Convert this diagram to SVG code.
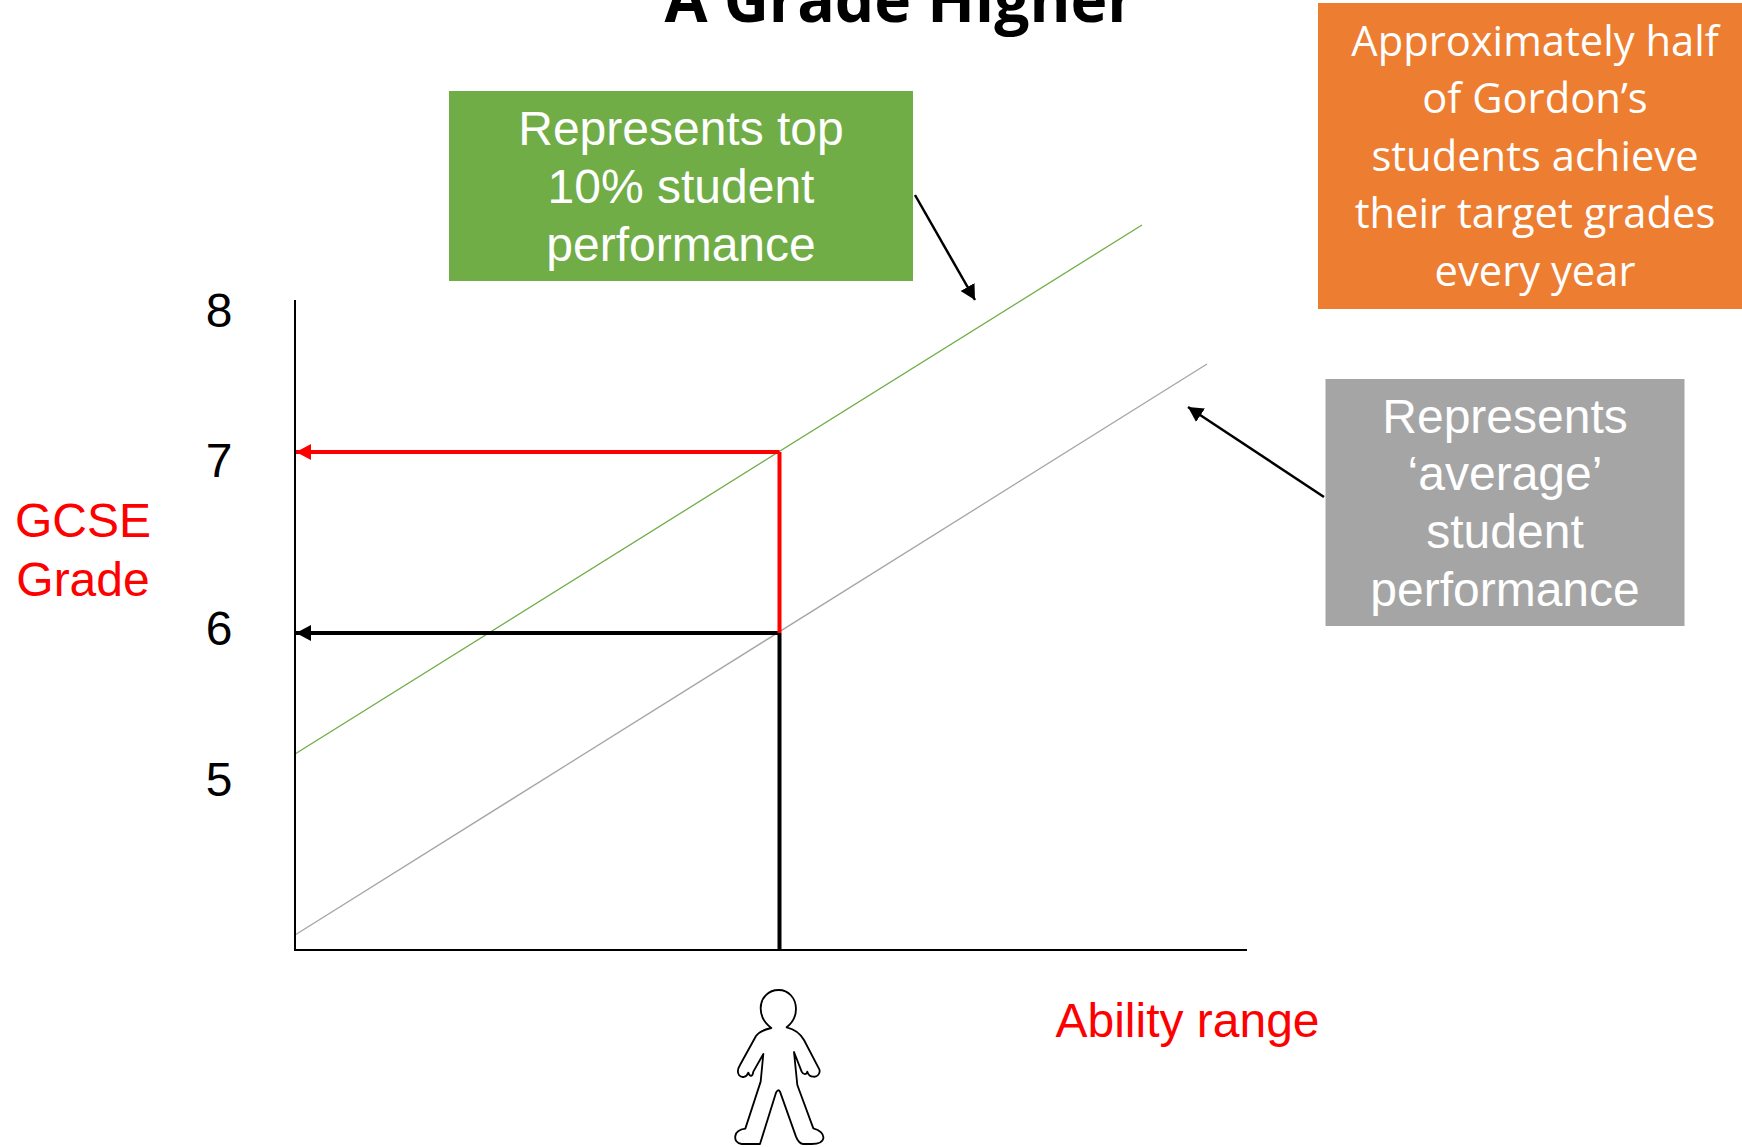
<svg xmlns="http://www.w3.org/2000/svg" width="1742" height="1147" viewBox="0 0 1742 1147">
<style>
.a{font-family:"Liberation Sans",Arial,sans-serif;font-size:48px;text-anchor:middle}
.w{fill:#fff}.r{fill:#f00}.k{fill:#000}
.o{font-family:"Open Sans","Noto Sans",sans-serif;font-size:41.7px;fill:#fff;text-anchor:middle}
.t{font-family:"Open Sans","Noto Sans",sans-serif;font-size:62.400px;font-weight:700;fill:#000;text-anchor:middle}
.c{fill:none}
</style>
<defs>
<marker id="ar" markerUnits="userSpaceOnUse" markerWidth="16" markerHeight="16" refX="15" refY="8" orient="auto"><path d="M0 0L15 8L0 16Z" fill="#f00"/></marker>
<marker id="ak" markerUnits="userSpaceOnUse" markerWidth="16" markerHeight="16" refX="15" refY="8" orient="auto"><path d="M0 0L15 8L0 16Z" fill="#000"/></marker>
</defs>
<rect width="1742" height="1147" fill="#fff"/>
<text id="title" class="t" x="900" y="22">A Grade Higher</text>
<g id="connectors" class="c">
<path d="M295 754L1142 225" stroke="#70ad47" stroke-width="1.3"/>
<path d="M295 935L1207 364" stroke="#a5a5a5" stroke-width="1.3"/>
<path d="M295 300V950H1247" stroke="#000" stroke-width="2"/>
<path d="M779.500 950V633" stroke="#000" stroke-width="4"/>
<path d="M779.500 633H296" stroke="#000" stroke-width="4" marker-end="url(#ak)"/>
<path d="M779.500 633V452" stroke="#f00" stroke-width="4"/>
<path d="M779.500 452H296" stroke="#f00" stroke-width="4" marker-end="url(#ar)"/>
<path d="M915 195L975 300" stroke="#000" stroke-width="2.500" marker-end="url(#ak)"/>
<path d="M1324 497L1188 407" stroke="#000" stroke-width="2.500" marker-end="url(#ak)"/>
</g>
<g id="node-green"><rect x="449" y="91" width="464" height="190" fill="#70ad47"/>
<text class="a w" x="681" y="145">Represents top</text><text class="a w" x="681" y="203">10% student</text><text class="a w" x="681" y="261">performance</text></g>
<g id="node-orange"><rect x="1318" y="3" width="424" height="306" fill="#ed7d31"/>
<text class="o" x="1535" y="56">Approximately half</text><text class="o" x="1535" y="113">of Gordon’s</text><text class="o" x="1535" y="171">students achieve</text><text class="o" x="1535" y="228">their target grades</text><text class="o" x="1535" y="286">every year</text></g>
<g id="node-gray"><rect x="1325.500" y="379" width="359" height="247" fill="#a5a5a5"/>
<text class="a w" x="1505" y="433">Represents</text><text class="a w" x="1505" y="490">‘average’</text><text class="a w" x="1505" y="548">student</text><text class="a w" x="1505" y="606">performance</text></g>
<g id="labels">
<text class="a k" x="219" y="327">8</text><text class="a k" x="219" y="477">7</text><text class="a k" x="219" y="645">6</text><text class="a k" x="219" y="796">5</text>
<text class="a r" x="83" y="537">GCSE</text><text class="a r" x="83" y="596">Grade</text>
<text class="a r" x="1187.500" y="1037">Ability range</text>
</g>
<g id="person" transform="translate(700 960) scale(.3333)">
<path d="M214 204C195 190 182 170 182 145C182 112 206 90 236 90C266 90 288 115 288 147C288 170 275 190 260 202C285 208 302 222 312 240L358 328C362 340 352 352 340 350C330 350 325 345 322 335C320 345 310 345 305 335L282 276L292 375L340 505C360 510 372 522 370 535C368 548 355 552 335 552L310 552C300 552 294 545 288 530L240 395C236 388 232 390 228 398L180 552L125 552C110 550 104 540 106 528C108 515 120 508 136 506L182 365L190 282L160 335C158 350 150 352 145 338C140 352 125 355 117 345C110 335 114 325 120 315L168 228C178 214 195 208 214 204Z" fill="#fff" stroke="#000" stroke-width="5.500" stroke-linejoin="round"/>
</g>
</svg>
